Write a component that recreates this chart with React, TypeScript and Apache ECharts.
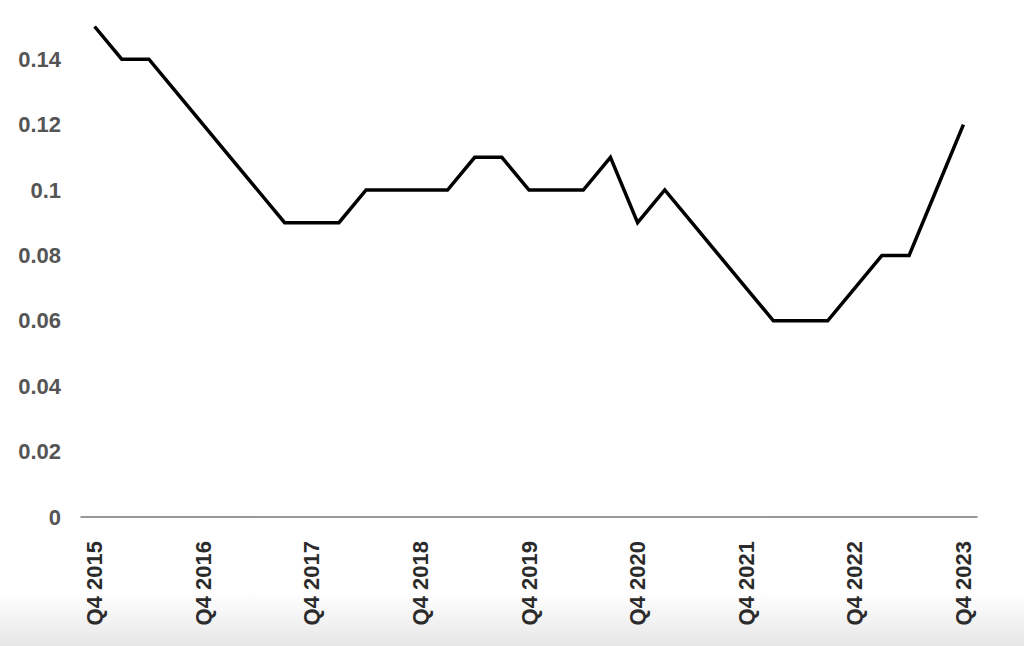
import React, { useEffect, useRef } from "react";
import * as echarts from "echarts";

const quarters: string[] = [
  "Q4 2015", "Q1 2016", "Q2 2016", "Q3 2016", "Q4 2016",
  "Q1 2017", "Q2 2017", "Q3 2017", "Q4 2017",
  "Q1 2018", "Q2 2018", "Q3 2018", "Q4 2018",
  "Q1 2019", "Q2 2019", "Q3 2019", "Q4 2019",
  "Q1 2020", "Q2 2020", "Q3 2020", "Q4 2020",
  "Q1 2021", "Q2 2021", "Q3 2021", "Q4 2021",
  "Q1 2022", "Q2 2022", "Q3 2022", "Q4 2022",
  "Q1 2023", "Q2 2023", "Q3 2023", "Q4 2023",
];

const values: number[] = [
  0.15, 0.14, 0.14, 0.13, 0.12,
  0.11, 0.10, 0.09, 0.09,
  0.09, 0.10, 0.10, 0.10,
  0.10, 0.11, 0.11, 0.10,
  0.10, 0.10, 0.11, 0.09,
  0.10, 0.09, 0.08, 0.07,
  0.06, 0.06, 0.06, 0.07,
  0.08, 0.08, 0.10, 0.12,
];

const yMin = 0;
const yMax = 0.15;
const yInterval = 0.02;

export default function App() {
  const ref = useRef<HTMLDivElement>(null);

  useEffect(() => {
    if (!ref.current) return;
    const chart = echarts.init(ref.current, undefined, { renderer: "svg" });
    chart.setOption({
      animation: false,
      backgroundColor: "#ffffff",
      textStyle: { fontFamily: "Liberation Sans, Arial, sans-serif" },
      graphic: [
        {
          type: "rect",
          z: -10,
          silent: true,
          shape: { x: 0, y: 592, width: 1024, height: 54 },
          style: {
            fill: new echarts.graphic.LinearGradient(0, 0, 0, 1, [
              { offset: 0, color: "#ffffff" },
              { offset: 0.6, color: "#f1f1f1" },
              { offset: 1, color: "#e6e6e6" },
            ]),
          },
        },
      ],
      grid: { left: 81, right: 47, top: 26.5, bottom: 129, containLabel: false },
      xAxis: {
        type: "category",
        data: quarters,
        boundaryGap: true,
        axisLine: { show: true, lineStyle: { color: "#777777", width: 1.5 } },
        axisTick: { show: false },
        splitLine: { show: false },
        axisLabel: {
          interval: 3,
          rotate: 90,
          margin: 24,
          fontSize: 22,
          fontWeight: "bold",
          color: "#2b2b2b",
          fontFamily: "Liberation Sans, Arial, sans-serif",
        },
      },
      yAxis: {
        type: "value",
        min: yMin,
        max: yMax,
        interval: yInterval,
        axisLine: { show: false },
        axisTick: { show: false },
        splitLine: { show: false },
        axisLabel: {
          showMaxLabel: false,
          margin: 20,
          fontSize: 22,
          fontWeight: "bold",
          color: "#555555",
          fontFamily: "Liberation Sans, Arial, sans-serif",
          formatter: (v: number) => {
            if (v > 0.145) return "";
            return String(Math.round(v * 100) / 100);
          },
        },
      },
      series: [
        {
          type: "line",
          data: values,
          symbol: "none",
          lineStyle: { color: "#000000", width: 3.5, join: "miter" },
        },
      ],
    });
    return () => chart.dispose();
  }, []);

  return (
    <div
      ref={ref}
      style={{ position: "absolute", left: 0, top: 0, width: 1024, height: 646 }}
    />
  );
}
